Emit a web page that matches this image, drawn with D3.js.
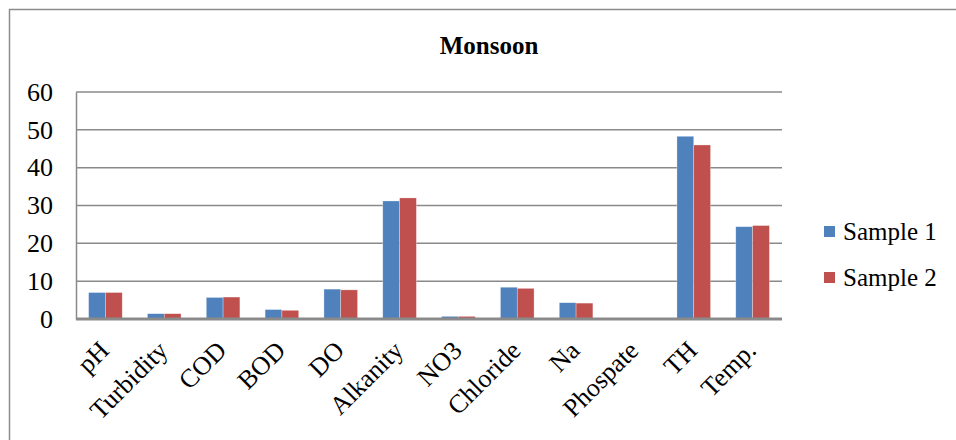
<!DOCTYPE html>
<html>
<head>
<meta charset="utf-8">
<script src="https://cdn.jsdelivr.net/npm/d3@7"></script>
<style>
  html, body { margin: 0; padding: 0; background: #fff; }
  svg { display: block; }
  svg text { font-family: "Liberation Serif", "Times New Roman", Times, serif; }
</style>
</head>
<body>
<svg id="chart" width="956" height="440"></svg>
<script>
// Water quality parameters, monsoon season
const categories = ["pH", "Turbidity", "COD", "BOD", "DO", "Alkanity", "NO3", "Chloride", "Na", "Phospate", "TH", "Temp."];
const sample1 = [7.0, 1.4, 5.7, 2.5, 7.9, 31.2, 0.7, 8.4, 4.3, 0, 48.3, 24.4];
const sample2 = [7.0, 1.4, 5.8, 2.3, 7.7, 32.0, 0.7, 8.1, 4.2, 0, 46.0, 24.7];
const seriesNames = ["Sample 1", "Sample 2"];
const seriesColors = ["#4F81BD", "#C0504D"];
const yTicks = [0, 10, 20, 30, 40, 50, 60];

const serif = "'Liberation Serif', 'Times New Roman', Times, serif";
const svg = d3.select("#chart").attr("font-family", serif);

// Outer chart frame
svg.append("rect")
  .attr("x", 9.5).attr("y", 9.5)
  .attr("width", 1000).attr("height", 1000)
  .attr("fill", "none").attr("stroke", "#8c8c8c").attr("stroke-width", 1.5);

const plot = { left: 76, right: 782, top: 92, bottom: 319 };

const x = d3.scaleBand().domain(categories).range([plot.left, plot.right]).paddingInner(0).paddingOuter(0);
const y = d3.scaleLinear().domain([0, 60]).range([plot.bottom, plot.top]);

// Title
svg.append("text")
  .attr("x", 489).attr("y", 54)
  .attr("text-anchor", "middle")
  .attr("font-family", serif)
  .attr("font-weight", "bold").attr("font-size", 25)
  .text("Monsoon");

// Horizontal gridlines
svg.append("g").selectAll("line")
  .data(yTicks.filter(t => t > 0))
  .join("line")
  .attr("x1", plot.left).attr("x2", plot.right)
  .attr("y1", d => y(d)).attr("y2", d => y(d))
  .attr("stroke", "#8a8a8a").attr("stroke-width", 1.5);

// Y axis labels
const yAxis = d3.axisLeft(y).tickValues(yTicks).tickSize(0).tickPadding(23);
const yg = svg.append("g").attr("transform", `translate(${plot.left},0)`).call(yAxis)
  .attr("font-family", serif).attr("font-size", 26);
yg.select(".domain").attr("stroke", "#8a8a8a").attr("stroke-width", 1.5);
yg.selectAll("text").attr("fill", "#000");

// Bars: two series per category, Excel-style gap width of 150%
const bw = x.bandwidth() / 3.5;
const groups = [sample1, sample2];
groups.forEach((vals, si) => {
  svg.append("g").selectAll("rect")
    .data(categories)
    .join("rect")
    .attr("x", (d) => x(d) + x.bandwidth() / 2 - bw + si * bw)
    .attr("y", (d, i) => y(vals[i]))
    .attr("width", bw)
    .attr("height", (d, i) => y(0) - y(vals[i]))
    .attr("fill", seriesColors[si])
    .attr("stroke", "rgba(255,255,255,0.5)").attr("stroke-width", 0.6);
});

// Category axis baseline
svg.append("line")
  .attr("x1", plot.left).attr("x2", plot.right)
  .attr("y1", y(0)).attr("y2", y(0))
  .attr("stroke", "#8a8a8a").attr("stroke-width", 3);

// Rotated category labels
svg.append("g").selectAll("text")
  .data(categories)
  .join("text")
  .attr("transform", d => `translate(${x(d) + x.bandwidth() / 2 + 5},${plot.bottom + 33}) rotate(-45)`)
  .attr("text-anchor", "end")
  .attr("font-family", serif)
  .attr("font-size", 26)
  .text(d => d);

// Legend
const legend = svg.append("g").attr("transform", "translate(824,231)");
seriesNames.forEach((name, i) => {
  const g = legend.append("g").attr("transform", `translate(0,${i * 46})`);
  g.append("rect").attr("x", 0).attr("y", -5).attr("width", 11).attr("height", 11).attr("fill", seriesColors[i]);
  g.append("text").attr("x", 19).attr("y", 9).attr("font-family", serif).attr("font-size", 25).text(name);
});
</script>
</body>
</html>
